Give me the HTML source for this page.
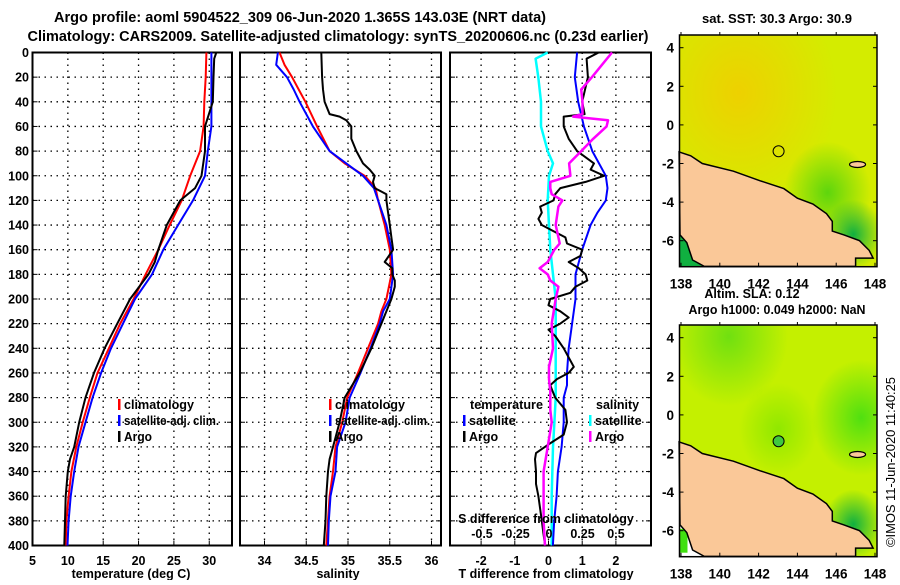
<!DOCTYPE html>
<html><head><meta charset="utf-8"><style>
body{margin:0;background:#fff}
svg text{font-family:"Liberation Sans",sans-serif;font-weight:bold;font-size:12.5px;fill:#000}
</style></head><body>
<svg id="c" width="900" height="580" xmlns="http://www.w3.org/2000/svg">
<defs>
<radialGradient id="warm" cx="0.3" cy="0.25" r="0.5"><stop offset="0" stop-color="#f2cc00" stop-opacity="0.85"/><stop offset="0.6" stop-color="#f2cc00" stop-opacity="0.35"/><stop offset="1" stop-color="#f2cc00" stop-opacity="0"/></radialGradient>
<radialGradient id="grn1" cx="0.75" cy="0.68" r="0.22"><stop offset="0" stop-color="#40d010" stop-opacity="0.8"/><stop offset="1" stop-color="#40d010" stop-opacity="0"/></radialGradient>
<radialGradient id="grn2" cx="0.88" cy="0.86" r="0.15"><stop offset="0" stop-color="#10b040"/><stop offset="1" stop-color="#10b040" stop-opacity="0"/></radialGradient>
<radialGradient id="grn3" cx="0.92" cy="0.4" r="0.25"><stop offset="0" stop-color="#50e010"/><stop offset="1" stop-color="#50e010" stop-opacity="0"/></radialGradient>
<radialGradient id="grn4" cx="0.25" cy="0.05" r="0.3"><stop offset="0" stop-color="#70e010"/><stop offset="1" stop-color="#70e010" stop-opacity="0"/></radialGradient>
<radialGradient id="grn5" cx="0.5" cy="0.45" r="0.2"><stop offset="0" stop-color="#90e800"/><stop offset="1" stop-color="#90e800" stop-opacity="0"/></radialGradient>
</defs>
<g id="g"></g>
</svg>
<script>
// ---- data ----
const depthTicks=[0,20,40,60,80,100,120,140,160,180,200,220,240,260,280,300,320,340,360,380,400];
const tempTicks=[5,10,15,20,25,30];
const salTicks=[34,34.5,35,35.5,36];
const dtTicks=[-2,-1,0,1,2];
const dsTicks=[-0.5,-0.25,0,0.25,0.5];
const dsTickLabels=["-0.5","-0.25","0","0.25","0.5"];
const latTicks=[4,2,0,-2,-4,-6];
const lonTicks=[138,140,142,144,146,148];

const tDepth=[0,20,40,60,80,100,120,140,160,180,200,220,240,260,280,300,320,340,360,380,400];
const tClim=[29.6,29.5,29.3,29.2,28.7,27.3,26.1,24.4,22.8,21.0,19.3,17.4,15.8,14.2,13.1,12.1,11.2,10.5,10.1,9.8,9.7];
const tSat=[30.3,30.3,30.3,30.3,29.8,29.4,27.7,25.6,23.5,21.9,19.5,17.8,16.1,14.7,13.5,12.5,11.5,10.9,10.4,10.1,9.95];
const aDepth=[0,5,20,40,60,80,100,110,120,140,160,170,180,200,220,240,260,280,300,320,330,340,360,380,400];
const tArgo=[31.0,30.7,30.6,30.5,29.4,29.4,28.9,28.0,25.9,24.0,22.8,22.3,21.4,18.8,17.0,15.2,13.7,12.5,11.6,10.9,10.3,10.0,9.7,9.6,9.5];

const sDepth=[0,10,20,30,40,60,80,90,100,110,120,140,160,180,200,210,220,240,260,280,300,320,340,360,380,400];
const sClim=[34.18,34.24,34.33,34.41,34.49,34.63,34.78,34.96,35.20,35.33,35.36,35.44,35.50,35.52,35.46,35.40,35.36,35.24,35.12,34.99,34.93,34.85,34.82,34.78,34.76,34.74];
const sSat=[34.16,34.14,34.27,34.35,34.42,34.58,34.78,34.98,35.18,35.31,35.36,35.46,35.52,35.54,35.50,35.42,35.38,35.27,35.15,35.02,34.97,34.87,34.85,34.79,34.77,34.76];
const sArgoDepth=[0,20,30,40,50,52,55,60,70,80,90,95,100,105,110,115,120,130,140,150,160,170,175,180,185,190,200,210,220,240,260,280,300,320,330,340,360,380,400];
const sArgo=[34.68,34.69,34.70,34.72,34.78,34.90,34.98,35.04,35.04,35.10,35.18,35.26,35.32,35.30,35.32,35.46,35.46,35.48,35.50,35.52,35.54,35.44,35.53,35.53,35.56,35.56,35.52,35.46,35.40,35.28,35.14,34.96,34.90,34.82,34.78,34.76,34.74,34.73,34.71];

const dDepth=[0,20,40,60,80,100,110,120,130,140,160,180,200,220,240,260,270,280,300,320,340,360,380,400];
const dtSat=[0.85,0.78,0.88,1.05,1.3,1.7,1.75,1.7,1.45,1.25,1.0,0.8,0.8,0.7,0.6,0.55,0.55,0.45,0.45,0.39,0.28,0.24,0.17,0.13];
const dtArgoDepth=[0,5,20,40,50,52,60,70,80,90,95,100,105,110,115,120,125,130,135,140,145,150,155,160,165,170,175,180,185,190,195,200,205,210,215,220,225,230,240,250,255,260,265,270,280,290,300,310,318,325,330,340,350,360,380,390,400];
const dtArgo=[1.49,1.13,1.17,1.0,1.07,0.45,0.45,0.6,0.85,1.35,1.25,1.65,1.1,0.35,0.2,0.15,-0.25,-0.2,-0.3,-0.2,0.15,0.5,0.55,1.0,0.95,0.6,0.9,1.1,1.15,0.8,0.65,0.05,0.0,0.35,0.6,0.35,0.0,0.2,0.45,0.65,0.75,0.6,0.25,0.05,0.2,0.5,0.55,0.45,0.0,-0.37,-0.4,-0.37,-0.37,-0.3,-0.2,-0.15,-0.1];
const dsSatDepth=[0,5,20,40,60,80,90,100,120,140,160,180,200,240,260,280,300,320,360,400];
const dsSat=[-0.01,-0.1,-0.08,-0.06,-0.06,-0.01,0.03,0.0,-0.01,0.0,0.01,0.03,0.05,0.05,0.05,0.05,0.04,0.03,0.02,0.02];
const dsArgoDepth=[0,20,30,40,50,52,55,60,70,80,90,100,105,110,115,120,125,140,150,155,160,170,175,180,185,190,200,220,240,255,265,275,290,300,320,340,360,380,400];
const dsArgo=[0.47,0.32,0.24,0.25,0.25,0.18,0.44,0.43,0.33,0.24,0.15,0.16,0.01,0.01,0.02,0.1,0.07,0.05,0.07,0.08,0.04,-0.01,-0.07,-0.01,0.01,0.07,0.05,0.02,0.03,0.0,0.0,0.01,0.01,0.02,-0.01,-0.04,-0.04,-0.04,-0.03];

// ---- layout/scales ----
const NS="http://www.w3.org/2000/svg", G=document.getElementById('g');
function el(t,a,txt){const e=document.createElementNS(NS,t);for(const k in a)e.setAttribute(k,a[k]);if(txt!==undefined)e.textContent=txt;G.appendChild(e);return e;}
const yD=d=>52.5+d*1.2325;
const xT=v=>32.5+(v-5)*7.07;
const xS=v=>264.5+(v-34)*83.5;
const xDT=v=>548.5+v*33.7;
const xDS=v=>549+v*134;
const P=[{x0:32.5,x1:232},{x0:240,x1:441},{x0:450,x1:651}];
const Y0=52.5,Y1=545.5;

function panel(i,xt,xf,name){
 const p=P[i];
 depthTicks.forEach(d=>{const y=yD(d);
  const l=el('line',{x1:p.x0,x2:p.x1,y1:y,y2:y,stroke:'#000','stroke-width':1.3,'stroke-dasharray':'1.5,4.5'});
  
  el('line',{x1:p.x0,x2:p.x0+5,y1:y,y2:y,stroke:'#000','stroke-width':1});
  el('line',{x1:p.x1-5,x2:p.x1,y1:y,y2:y,stroke:'#000','stroke-width':1});
 });
 xt.forEach(v=>{const x=xf(v);
  const l=el('line',{x1:x,x2:x,y1:Y0,y2:Y1,stroke:'#000','stroke-width':1.3,'stroke-dasharray':'1.5,4.5'});
  
  el('line',{x1:x,x2:x,y1:Y1-5,y2:Y1,stroke:'#000','stroke-width':1});
  const t=el('text',{x:x,y:565,'text-anchor':'middle'},String(v));
  
 });
 const r=el('rect',{x:p.x0,y:Y0,width:p.x1-p.x0,height:Y1-Y0,fill:'none',stroke:'#000','stroke-width':2});
 
}
panel(0,tempTicks,xT,'temperature-panel');
panel(1,salTicks,xS,'salinity-panel');
panel(2,dtTicks,xDT,'t-difference-panel');
depthTicks.forEach(d=>{const t=el('text',{x:29,y:yD(d)+4.5,'text-anchor':'end'},String(d));
 });

function line(xs,ds,xf,col,name,w){
 const pts=xs.map((v,i)=>xf(v).toFixed(1)+','+yD(ds[i]).toFixed(1)).join(' ');
 const l=el('polyline',{points:pts,fill:'none',stroke:col,'stroke-width':w||2,'stroke-linejoin':'round'});
 
}
line(tClim,tDepth,xT,'#f00','temp-climatology-line');
line(tSat,tDepth,xT,'#00f','temp-satellite-line');
line(tArgo,aDepth,xT,'#000','temp-argo-line');
line(sClim,sDepth,xS,'#f00','sal-climatology-line');
line(sSat,sDepth,xS,'#00f','sal-satellite-line');
line(sArgo,sArgoDepth,xS,'#000','sal-argo-line');
line(dsSat,dsSatDepth,xDS,'#0ff','s-diff-satellite-line',2.5);
line(dtSat,dDepth,xDT,'#00f','t-diff-satellite-line');
line(dtArgo,dtArgoDepth,xDT,'#000','t-diff-argo-line');
line(dsArgo,dsArgoDepth,xDS,'#f0f','s-diff-argo-line',2.5);

dsTicks.forEach((v,i)=>{const t=el('text',{x:xDS(v),y:538,'text-anchor':'middle'},dsTickLabels[i]);
 });
</script>
<script>
(function(){
const NS="http://www.w3.org/2000/svg",S=document.getElementById('c');
function add(t,a,txt,name,parent){const e=document.createElementNS(NS,t);for(const k in a)e.setAttribute(k,a[k]);if(txt!==undefined)e.textContent=txt;(parent||S).appendChild(e);
 if(name){}return e;}
add('text',{x:300,y:22,'text-anchor':'middle',textLength:492,lengthAdjust:'spacingAndGlyphs',style:'font-size:14.5px'},'Argo profile: aoml 5904522_309 06-Jun-2020 1.365S 143.03E (NRT data)','title-line-1');
add('text',{x:338,y:41,'text-anchor':'middle',textLength:621,lengthAdjust:'spacingAndGlyphs',style:'font-size:14.5px'},'Climatology: CARS2009. Satellite-adjusted climatology: synTS_20200606.nc (0.23d earlier)','title-line-2');
add('text',{x:131,y:578,'text-anchor':'middle'},'temperature (deg C)','x-axis-title-temperature');
add('text',{x:338,y:578,'text-anchor':'middle'},'salinity','x-axis-title-salinity');
add('text',{x:546,y:578,'text-anchor':'middle'},'T difference from climatology','x-axis-title-t-diff');
add('text',{x:546,y:523,'text-anchor':'middle'},'S difference from climatology','s-diff-axis-title');
function leg(x,y,col,txt,name,len){add('rect',{x:x,y:y-10,width:2.5,height:11,fill:col});
 const a={x:x+6,y:y};if(len){a.textLength=len;a.lengthAdjust='spacingAndGlyphs';}add('text',a,txt,name);}
leg(118,409,'#f00','climatology','legend-climatology',70);
leg(118,425,'#00f','satellite-adj. clim.','legend-satellite-adj',95);
leg(118,441,'#000','Argo','legend-argo',28);
leg(329,409,'#f00','climatology','legend-sal-climatology',70);
leg(329,425,'#00f','satellite-adj. clim.','legend-sal-satellite-adj',95);
leg(329,441,'#000','Argo','legend-sal-argo',28);
add('text',{x:470,y:409,textLength:73,lengthAdjust:'spacingAndGlyphs'},'temperature','legend-temperature-header');
add('text',{x:596,y:409},'salinity','legend-salinity-header');
leg(463,425,'#00f','satellite','legend-t-satellite');
leg(463,441,'#000','Argo','legend-t-argo');
leg(589,425,'#0ff','satellite','legend-s-satellite');
leg(589,441,'#f0f','Argo','legend-s-argo');

const lx=v=>681+(v-138)*19.4;
function map(y0,kind,name){
 const y1=y0+231.7, lat4=y0+12.7;
 const ly=v=>lat4+(4-v)*19.3;
 const W=877-679.5,H=y1-y0,X0=679.5;
 const g=add('g',{},undefined,name);
 const R=a=>add('rect',a,undefined,undefined,g);
 if(kind==='sst'){
  R({x:X0,y:y0,width:W,height:H,fill:'#d4ec00'});
  R({x:X0,y:y0,width:W,height:H,fill:'url(#warm)'});
  R({x:X0,y:y0,width:W,height:H,fill:'url(#grn1)'});
  R({x:X0,y:y0,width:W,height:H,fill:'url(#grn2)'});
  R({x:X0,y:ly(-5.6),width:22,height:y1-ly(-5.6),fill:'#10b040'});
 }else{
  R({x:X0,y:y0,width:W,height:H,fill:'#c4f000'});
  R({x:X0,y:y0,width:W,height:H,fill:'url(#grn3)'});
  R({x:X0,y:y0,width:W,height:H,fill:'url(#grn4)'});
  R({x:X0,y:y0,width:W,height:H,fill:'url(#grn5)'});
  R({x:X0,y:y0,width:W,height:H,fill:'url(#grn2)'});
  R({x:X0,y:ly(-5.6),width:22,height:y1-ly(-5.6),fill:'#fff'});
  R({x:X0,y:ly(-5.9),width:8,height:y1-ly(-5.9)-4,fill:'#40e010'});
 }
 const coast=[[137.9,-1.4],[138.5,-1.6],[139.1,-2.0],[140.7,-2.4],[142.1,-2.9],[143.3,-3.3],[144.0,-3.8],[144.8,-4.1],[145.5,-4.6],[145.8,-5.0],[145.8,-5.5],[146.4,-5.7],[147.2,-6.0],[147.7,-6.5],[147.9,-6.9],[147.0,-6.9],[147.0,-7.33],[139.2,-7.33],[138.6,-7.0],[138.3,-6.1],[137.95,-5.7]];
 const pts=coast.map(c=>lx(c[0]).toFixed(1)+','+ly(c[1]).toFixed(1)).join(' ');
 add('polygon',{points:pts,fill:'#fac898',stroke:'#000','stroke-width':1.5},undefined,'land-mass',g);
 add('ellipse',{cx:lx(147.1),cy:ly(-2.05),rx:8,ry:3,fill:'#fac898',stroke:'#000','stroke-width':1.2},undefined,'island',g);
 add('circle',{cx:lx(143.03),cy:ly(-1.365),r:5.5,fill:kind==='sst'?'none':'#40c840',stroke:'#000','stroke-width':1},undefined,'argo-location-marker',g);
 add('rect',{x:X0,y:y0,width:W,height:H,fill:'none',stroke:'#000','stroke-width':1.5},undefined,name+'-frame');
 latTicks.forEach(v=>{add('text',{x:674,y:ly(v)+5,'text-anchor':'end',style:'font-size:13.5px'},String(v),'lat-tick-label');
  add('line',{x1:X0,x2:X0+4,y1:ly(v),y2:ly(v),stroke:'#000'});add('line',{x1:873,x2:877,y1:ly(v),y2:ly(v),stroke:'#000'});});
 lonTicks.forEach(v=>{add('text',{x:lx(v),y:y1+22,'text-anchor':'middle',style:'font-size:13.5px'},String(v),'lon-tick-label');
  add('line',{x1:lx(v),x2:lx(v),y1:y0-3,y2:y0,stroke:'#000'});add('line',{x1:lx(v),x2:lx(v),y1:y1-4,y2:y1,stroke:'#000'});});
}
map(35,'sst','sst-map');
map(325,'sla','sla-map');
add('text',{x:777,y:23,'text-anchor':'middle',textLength:150,lengthAdjust:'spacingAndGlyphs'},'sat. SST: 30.3 Argo: 30.9','sst-map-title');
add('text',{x:752,y:298,'text-anchor':'middle'},'Altim. SLA: 0.12','sla-map-title-1');
add('text',{x:777,y:314,'text-anchor':'middle',textLength:177,lengthAdjust:'spacingAndGlyphs'},'Argo h1000: 0.049 h2000: NaN','sla-map-title-2');
add('text',{x:0,y:0,'text-anchor':'middle',transform:'translate(895,462) rotate(-90)',textLength:170,style:'font-weight:normal;font-size:13px'},'©IMOS 11-Jun-2020 11:40:25','timestamp');
})();
</script>
</body></html>
